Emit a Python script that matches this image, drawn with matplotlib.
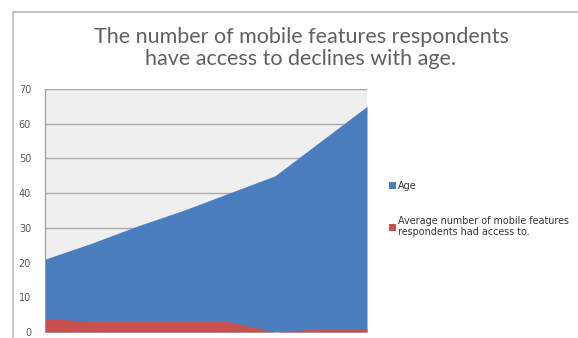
import numpy as np
import matplotlib
matplotlib.use('Agg')
import matplotlib.pyplot as plt
from matplotlib.patches import Rectangle

# data
groups = np.arange(8)
age = [21, 25.5, 30.5, 35, 40, 45, 55, 65]
features = [4, 3, 3, 3, 3, 0, 1, 1]

blue = '#4A7EBF'
red = '#C8514D'

fig = plt.figure(figsize=(5.78, 3.38), dpi=100)

# outer chart frame
fig.patches.append(Rectangle((13/578, -0.1), 1.0, (338-12)/338 + 0.1,
                             transform=fig.transFigure, fill=False,
                             edgecolor='#BBBBBB', linewidth=1.2))

ax = fig.add_axes([45/578, (338-332)/338, (367-45)/578, (332-89)/338])
ax.set_facecolor('#EFEFEF')

ax.fill_between(groups, 0, age, color=blue, linewidth=0, label='Age')
ax.fill_between(groups, 0, features, color=red, linewidth=0,
                label='Average number of mobile features\nrespondents had access to.')

ax.set_xlim(0, 7)
ax.set_ylim(0, 70)
ax.set_yticks(range(0, 71, 10))
ax.set_xticks([])
ax.yaxis.grid(True, color='#A8A8A8', linewidth=1)
ax.set_axisbelow(True)
for s in ['top', 'right', 'bottom']:
    ax.spines[s].set_visible(False)
ax.spines['left'].set_color('#999999')
ax.tick_params(axis='y', length=0, pad=10, labelsize=7, labelcolor='#555555')

fig.text(301/578, 1 - 48/338,
         'The number of mobile features respondents\nhave access to declines with age.',
         ha='center', va='center', fontsize=15.5, color='#606060',
         family='Lato', linespacing=1.1)

leg = fig.legend(loc='upper left', bbox_to_anchor=(385/578, 1 - 177/338),
                 frameon=False, fontsize=6.9, handlelength=0.7, handleheight=0.7,
                 handletextpad=0.3, labelspacing=2.6, borderaxespad=0)
for t in leg.get_texts():
    t.set_color('#333333')

fig.savefig('out.png', dpi=100)
